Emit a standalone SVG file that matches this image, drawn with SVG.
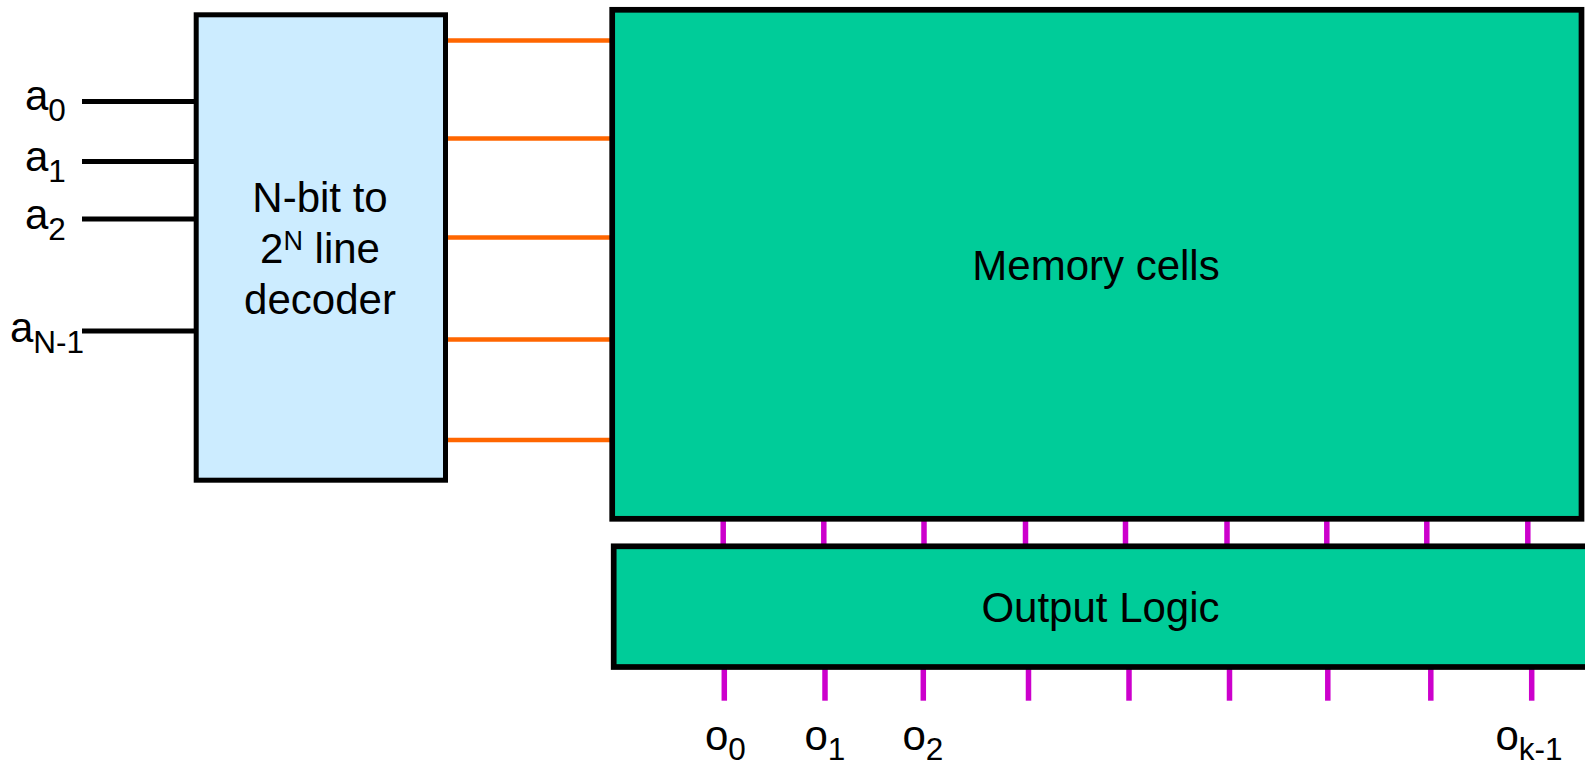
<svg xmlns="http://www.w3.org/2000/svg" width="1585" height="764" viewBox="0 0 1585 764">
<style>
text{font-family:"Liberation Sans",Arial,sans-serif;fill:#000}
.t{font-size:42px}
.s{font-size:31.5px}
.in{stroke:#000;stroke-width:5;fill:none}
.or{stroke:#FF6600;stroke-width:4.5;fill:none}
.mg{stroke:#CC00CC;stroke-width:5.5;fill:none}
</style>
<rect width="1585" height="764" fill="#fff"/>
<g id="connectors">
<line class="in" x1="82" y1="101.5" x2="196" y2="101.5"/>
<line class="in" x1="82" y1="161.5" x2="196" y2="161.5"/>
<line class="in" x1="82" y1="219" x2="196" y2="219"/>
<line class="in" x1="82" y1="331" x2="196" y2="331"/>
<line class="or" x1="446" y1="40.5" x2="612" y2="40.5"/>
<line class="or" x1="446" y1="138.5" x2="612" y2="138.5"/>
<line class="or" x1="446" y1="237.5" x2="612" y2="237.5"/>
<line class="or" x1="446" y1="339.5" x2="612" y2="339.5"/>
<line class="or" x1="446" y1="440" x2="612" y2="440"/>
<g class="mg">
<line x1="723.2" y1="520" x2="723.2" y2="545"/>
<line x1="823.8" y1="520" x2="823.8" y2="545"/>
<line x1="924" y1="520" x2="924" y2="545"/>
<line x1="1025.5" y1="520" x2="1025.5" y2="545"/>
<line x1="1125.5" y1="520" x2="1125.5" y2="545"/>
<line x1="1227" y1="520" x2="1227" y2="545"/>
<line x1="1326.8" y1="520" x2="1326.8" y2="545"/>
<line x1="1426.8" y1="520" x2="1426.8" y2="545"/>
<line x1="1527.8" y1="520" x2="1527.8" y2="545"/>
<line x1="724.3" y1="669" x2="724.3" y2="700.7"/>
<line x1="825" y1="669" x2="825" y2="700.7"/>
<line x1="923.3" y1="669" x2="923.3" y2="700.7"/>
<line x1="1028.5" y1="669" x2="1028.5" y2="700.7"/>
<line x1="1129" y1="669" x2="1129" y2="700.7"/>
<line x1="1229.5" y1="669" x2="1229.5" y2="700.7"/>
<line x1="1327.8" y1="669" x2="1327.8" y2="700.7"/>
<line x1="1430.8" y1="669" x2="1430.8" y2="700.7"/>
<line x1="1531.7" y1="669" x2="1531.7" y2="700.7"/>
</g>
</g>
<g id="decoder">
<rect x="196.2" y="14.8" width="249.3" height="465.4" fill="#CCECFF" stroke="#000" stroke-width="5"/>
<text class="t" x="320" y="211.5" text-anchor="middle">N-bit to</text>
<text class="t" x="320" y="263" text-anchor="middle">2<tspan font-size="27" dy="-13">N</tspan><tspan dy="13"> line</tspan></text>
<text class="t" x="320" y="314" text-anchor="middle">decoder</text>
</g>
<g id="memory">
<rect x="612.2" y="9.8" width="969.3" height="509" fill="#00CC99" stroke="#000" stroke-width="5.7"/>
<text class="t" x="1096" y="280" text-anchor="middle">Memory cells</text>
</g>
<g id="output-logic">
<rect x="613.7" y="546.3" width="1000" height="120.7" fill="#00CC99" stroke="#000" stroke-width="5.7"/>
<text class="t" x="1100.5" y="622" text-anchor="middle">Output Logic</text>
</g>
<g id="inputs">
<text class="t" x="25" y="110">a<tspan class="s" dy="10.5">0</tspan></text>
<text class="t" x="25" y="171">a<tspan class="s" dy="10.5">1</tspan></text>
<text class="t" x="25" y="229">a<tspan class="s" dy="10.5">2</tspan></text>
<text class="t" x="10" y="341.5">a<tspan class="s" dy="11.5">N-1</tspan></text>
</g>
<g id="outputs">
<text class="t" x="705" y="750">o<tspan class="s" dy="10">0</tspan></text>
<text class="t" x="804.5" y="750">o<tspan class="s" dy="10">1</tspan></text>
<text class="t" x="902.5" y="750">o<tspan class="s" dy="10">2</tspan></text>
<text class="t" x="1495.5" y="750">o<tspan class="s" dy="10">k-1</tspan></text>
</g>
</svg>
